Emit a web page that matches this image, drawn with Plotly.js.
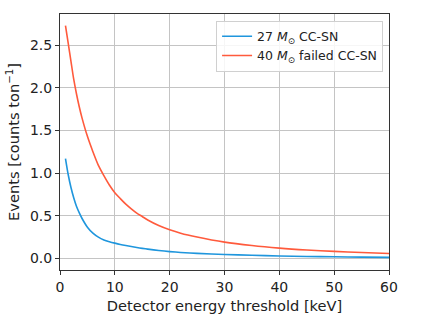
<!DOCTYPE html>
<html>
<head>
<meta charset="utf-8">
<script src="https://cdn.plot.ly/plotly-3.0.1.min.js"></script>
<style>html,body{margin:0;padding:0;background:#fff;}#chart{width:425px;height:319px;}</style>
</head>
<body>
<div id="chart"></div>
<script>
// Detector energy threshold [keV]
const thresholds = [1, 1.5, 2, 2.5, 3, 3.5, 4, 5, 6, 7, 8, 9, 10, 11, 12, 13, 14, 15, 16, 18, 20, 22, 25, 30, 35, 40, 45, 50, 55, 60];
// 27 Msun CC-SN events [counts/ton]
const events27 = [1.17, 0.98, 0.83, 0.71, 0.61, 0.535, 0.47, 0.365, 0.295, 0.248, 0.216, 0.195, 0.178, 0.163, 0.15, 0.138, 0.127, 0.117, 0.108, 0.092, 0.079, 0.069, 0.058, 0.045, 0.036, 0.028, 0.022, 0.018, 0.014, 0.011];
// 40 Msun failed CC-SN events [counts/ton]
const events40 = [2.73, 2.52, 2.31, 2.10, 1.93, 1.78, 1.65, 1.43, 1.25, 1.09, 0.97, 0.86, 0.77, 0.70, 0.635, 0.58, 0.53, 0.49, 0.45, 0.385, 0.335, 0.295, 0.25, 0.19, 0.15, 0.12, 0.098, 0.081, 0.068, 0.057];
const seriesNames = ["27 <i>M</i><sub>\u2299</sub> CC-SN", "40 <i>M</i><sub>\u2299</sub> failed CC-SN"];
const xTicks = [0, 10, 20, 30, 40, 50, 60];
const yTicks = [0, 0.5, 1.0, 1.5, 2.0, 2.5];

const font = "DejaVu Sans, sans-serif";
const traces = [
  {x: thresholds, y: events27, name: seriesNames[0], mode: "lines", line: {color: "#1f96dd", width: 1.6, shape: "spline", smoothing: 0.8}},
  {x: thresholds, y: events40, name: seriesNames[1], mode: "lines", line: {color: "#ff5a3c", width: 1.6, shape: "spline", smoothing: 0.8}}
];
const axisCommon = {
  showline: true, mirror: true, linecolor: "#333", linewidth: 1,
  ticks: "outside", ticklen: 4, tickwidth: 1, tickcolor: "#333",
  showgrid: true, gridcolor: "#c4c4c4", gridwidth: 1, zeroline: false,
  tickfont: {family: font, size: 14, color: "#222"}
};
const layout = {
  width: 425, height: 319,
  margin: {l: 60, r: 36, t: 14, b: 49},
  paper_bgcolor: "#fff", plot_bgcolor: "#fff",
  font: {family: font, color: "#222"},
  xaxis: Object.assign({}, axisCommon, {
    range: [0, 60], tickvals: xTicks,
    title: {text: "Detector energy threshold [keV]", font: {family: font, size: 14.6, color: "#222"}, standoff: 6}
  }),
  yaxis: Object.assign({}, axisCommon, {
    range: [-0.137, 2.865], tickvals: yTicks, tickformat: ".1f",
    title: {text: "Events [counts ton<sup>\u22121</sup>]", font: {family: font, size: 14.6, color: "#222"}, standoff: 6}
  }),
  legend: {
    x: 0.982, y: 0.974, xanchor: "right", yanchor: "top",
    bgcolor: "rgba(255,255,255,0.85)", bordercolor: "#d0d0d0", borderwidth: 1,
    font: {family: font, size: 12.5, color: "#222"}, tracegroupgap: 0
  },
  showlegend: true
};
Plotly.newPlot("chart", traces, layout, {displayModeBar: false, staticPlot: true});
</script>
</body>
</html>
